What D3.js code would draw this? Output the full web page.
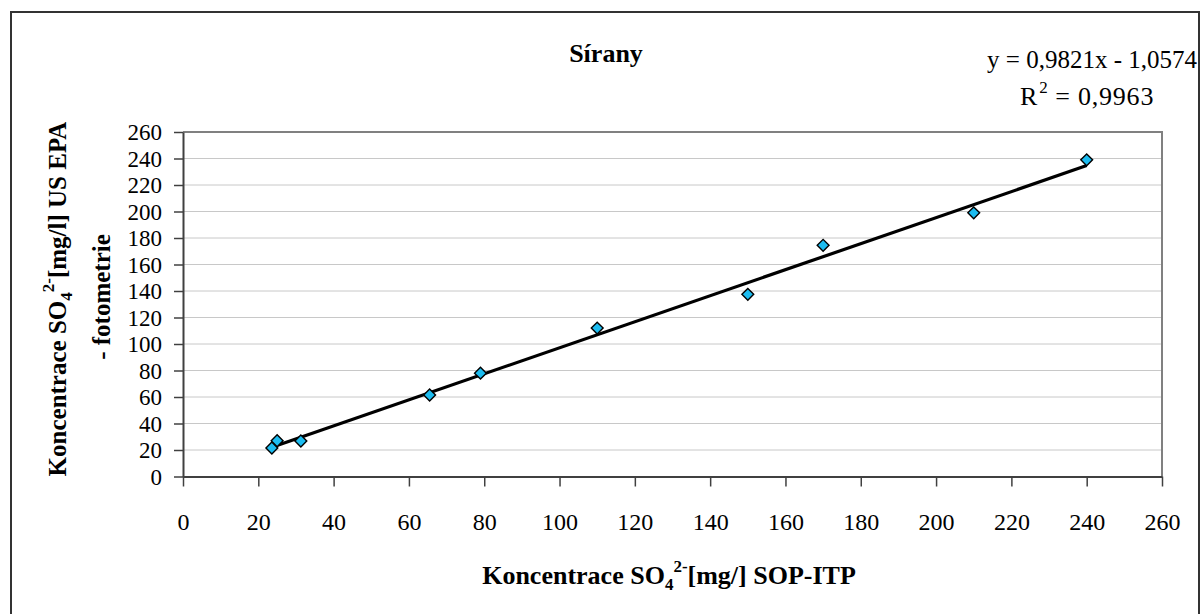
<!DOCTYPE html>
<html>
<head>
<meta charset="utf-8">
<script src="https://cdn.jsdelivr.net/npm/d3@7"></script>
<style>
  html, body { margin: 0; padding: 0; background: #fff; }
  svg { display: block; }
  text { font-family: "Liberation Serif", "Times New Roman", serif; fill: #000; }
</style>
</head>
<body>
<svg id="chart" width="1200" height="614"></svg>
<script>
// ---- data ----
const title = "Sírany";
const xValues = [23.6, 25, 31.3, 65.5, 79, 110, 150, 170, 210, 240];
const yValues = [21.5, 27, 26.8, 61.5, 78, 112, 137.5, 174.5, 199, 239];
const trendSlope = 0.9821;
const trendIntercept = -1.0574;
const equationText = "y = 0,9821x - 1,0574";
const r2Text = " = 0,9963";
const xTicks = [0, 20, 40, 60, 80, 100, 120, 140, 160, 180, 200, 220, 240, 260];
const yTicks = [0, 20, 40, 60, 80, 100, 120, 140, 160, 180, 200, 220, 240, 260];

// ---- layout ----
const svg = d3.select("#chart");
const W = 1200, H = 614;
const plot = { left: 183, right: 1162, top: 132, bottom: 476.5 };

svg.append("rect").attr("width", W).attr("height", H).attr("fill", "#fff");
// outer chart border
svg.append("rect")
  .attr("x", 11).attr("y", 12).attr("width", 1188).attr("height", 640)
  .attr("fill", "none").attr("stroke", "#333").attr("stroke-width", 2);

const x = d3.scaleLinear().domain([0, 260]).range([plot.left, plot.right]);
const y = d3.scaleLinear().domain([0, 260]).range([plot.bottom, plot.top]);

// gridlines
svg.append("g").selectAll("line").data(yTicks.filter(d => d > 0 && d < 260)).join("line")
  .attr("x1", plot.left).attr("x2", plot.right)
  .attr("y1", d => y(d)).attr("y2", d => y(d))
  .attr("stroke", "#c8c8c8").attr("stroke-width", 1);

// plot border top/right
svg.append("path")
  .attr("d", `M${plot.left},${plot.top}H${plot.right}V${plot.bottom}`)
  .attr("fill", "none").attr("stroke", "#808080").attr("stroke-width", 2);

// axes
const xAxis = svg.append("g").attr("transform", `translate(0,${plot.bottom})`)
  .call(d3.axisBottom(x).tickValues(xTicks).tickSize(10).tickSizeOuter(0));
const yAxis = svg.append("g").attr("transform", `translate(${plot.left},0)`)
  .call(d3.axisLeft(y).tickValues(yTicks).tickSize(9).tickSizeOuter(0).tickPadding(12));
[xAxis, yAxis].forEach(g => {
  g.select(".domain").attr("stroke", "#404040").attr("stroke-width", 2);
  g.selectAll(".tick line").attr("stroke", "#404040").attr("stroke-width", 1.5);
  g.selectAll(".tick text").attr("font-family", "Liberation Serif").attr("fill", "#000");
});
xAxis.selectAll(".tick text").attr("font-size", 24).attr("dy", "0").attr("y", 53);
yAxis.selectAll(".tick text").attr("font-size", 23).attr("dy", "0.33em");

// trendline
const xMin = d3.min(xValues), xMax = d3.max(xValues);
svg.append("line")
  .attr("x1", x(xMin)).attr("y1", y(trendSlope * xMin + trendIntercept))
  .attr("x2", x(xMax)).attr("y2", y(trendSlope * xMax + trendIntercept))
  .attr("stroke", "#000").attr("stroke-width", 3.2);

// markers
const pts = xValues.map((v, i) => [v, yValues[i]]);
svg.append("g").selectAll("path").data(pts).join("path")
  .attr("d", d3.symbol().type(d3.symbolSquare).size(70))
  .attr("transform", d => `translate(${x(d[0])},${y(d[1])}) rotate(45)`)
  .attr("fill", "#1cbcf0").attr("stroke", "#000").attr("stroke-width", 1.4);

// title
svg.append("text").attr("x", 606).attr("y", 62).attr("text-anchor", "middle")
  .attr("font-size", 26).attr("font-weight", "bold").text(title);

// equation
svg.append("text").attr("x", 1197).attr("y", 68).attr("text-anchor", "end")
  .attr("font-size", 25).text(equationText);
const r2 = svg.append("text").attr("x", 1020).attr("y", 105)
  .attr("font-size", 26);
r2.append("tspan").text("R");
r2.append("tspan").attr("font-size", 17).attr("dx", 2).attr("dy", -12).text("2");
r2.append("tspan").attr("dy", 12).attr("letter-spacing", 0.8).text(r2Text);

// axis title helper
function chemLabel(sel, before, after) {
  sel.append("tspan").text(before);
  sel.append("tspan").attr("font-size", 17).attr("dy", 6).text("4");
  sel.append("tspan").attr("font-size", 17).attr("dy", -18).text("2-");
  sel.append("tspan").attr("dy", 12).text(after);
}

// x axis title
const xt = svg.append("text").attr("x", 669).attr("y", 584).attr("text-anchor", "middle")
  .attr("font-size", 26).attr("font-weight", "bold");
chemLabel(xt, "Koncentrace SO", "[mg/] SOP-ITP");

// y axis title (two lines)
const yt = svg.append("g").attr("transform", "translate(66,299) rotate(-90)");
const yl1 = yt.append("text").attr("x", 0).attr("y", 0).attr("text-anchor", "middle")
  .attr("font-size", 25).attr("font-weight", "bold");
chemLabel(yl1, "Koncentrace SO", "[mg/l] US EPA");
yt.append("text").attr("x", 2).attr("y", 44).attr("text-anchor", "middle")
  .attr("font-size", 25).attr("font-weight", "bold").text("- fotometrie");
</script>
</body>
</html>
